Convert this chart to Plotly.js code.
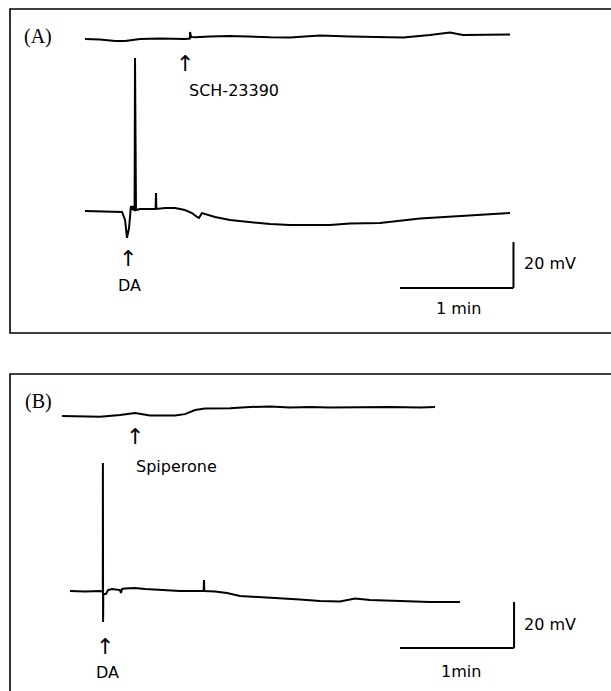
<!DOCTYPE html>
<html>
<head>
<meta charset="utf-8">
<script src="https://cdn.plot.ly/plotly-3.0.1.min.js"></script>
<style>html,body{margin:0;padding:0;background:#fff;}#chart{width:611px;height:691px;}</style>
</head>
<body>
<div id="chart"></div>
<script>
// ---------- DATA (time in s, membrane potential change in mV) ----------
// Panel A, lower trace: DA application
const tA_DA = [0, 7.9, 15.9, 19.6, 21.2, 22.2, 23.3, 24.3, 24.9, 25.4, 25.9, 26.24, 26.46, 26.67, 26.98, 29.1, 34.4, 37.35, 37.57, 37.78, 42.3, 47.6, 52.9, 56.6, 59.3, 60.3, 61.9, 64.6, 68.8, 76.7, 87.3, 97.9, 108.5, 119.0, 129.6, 140.2, 156.1, 177.2, 193.1, 209.0, 224.9];
const vA_DA = [0, -0.2, -0.4, -0.4, -3.9, -11.7, -7.4, 2.2, 0.4, 2.2, 0.4, 0.4, 66.5, 0.4, 0.4, 0.9, 0.9, 0.9, 7.8, 0.9, 1.3, 1.3, 0.4, -0.9, -2.6, -3.0, -0.9, -1.7, -2.6, -3.9, -4.8, -5.7, -6.1, -6.1, -6.1, -5.4, -5.2, -3.3, -2.6, -1.7, -0.9];
// Panel A, upper trace: SCH-23390 application
const tA_SCH = [0, 7.9, 15.9, 21.2, 29.1, 39.7, 52.9, 55.0, 55.45, 55.6, 56.1, 58.2, 66.1, 76.7, 87.3, 97.9, 108.5, 124.3, 140.2, 152.4, 168.3, 182.5, 193.1, 200.0, 211.6, 224.9];
const vA_SCH = [0, -0.2, -0.9, -0.9, 0, 0.2, 0, 0.2, 0.2, 3.0, 0.9, 0.7, 1.1, 1.3, 0.9, 0.7, 0.6, 1.5, 1.1, 1.0, 0.6, 1.7, 2.8, 1.7, 1.7, 1.9];
// Panel B, lower trace: DA application
const tB_DA = [3.7, 11.6, 19.5, 20.5, 20.95, 21.0, 21.1, 21.2, 22.6, 23.7, 25.8, 27.9, 30.0, 30.5, 31.1, 32.6, 37.9, 43.2, 51.1, 61.6, 72.1, 74.0, 74.2, 74.4, 80.0, 86.3, 93.2, 103.7, 114.2, 124.7, 135.3, 145.8, 153.7, 161.6, 177.4, 193.2, 208.9];
const vB_DA = [0, -0.2, 0, -0.4, -0.4, 55.7, -13.5, -1.3, -1.3, 0.4, 0.9, 0.7, 0.4, -0.9, 0.9, 1.1, 1.3, 0.9, 0.4, 0, 0, 0, 4.8, 0, -0.2, -0.9, -2.2, -2.6, -3.0, -3.7, -4.3, -4.6, -3.3, -3.9, -4.3, -4.8, -4.8];
// Panel B, upper trace: Spiperone application
const tB_SPI = [-0.5, 8.9, 19.5, 30.0, 37.9, 45.8, 58.9, 64.2, 69.5, 74.7, 87.9, 98.4, 108.9, 119.5, 130.0, 140.5, 156.3, 172.1, 187.9, 195.8];
const vB_SPI = [-0.4, -0.4, -0.7, 0, 0.9, -0.2, -0.2, 0.4, 2.2, 2.8, 3.0, 3.5, 3.7, 3.3, 3.5, 3.3, 3.5, 3.5, 3.3, 3.5];

// scale bar sizes
const scaleTime = 60;   // s (1 min)
const scaleVolt = 20;   // mV

// ---------- display layout constants ----------
const W = 611, H = 691;
const offA = 74.8, offB = 76.5;           // vertical display offset of upper traces (mV)
const px = x => x / W, py = y => 1 - y / H;
const lineStyle = {color: '#000', width: 2};

const traces = [
  {x: tA_DA, y: vA_DA, xaxis: 'x', yaxis: 'y'},
  {x: tA_SCH, y: vA_SCH.map(v => v + offA), xaxis: 'x', yaxis: 'y'},
  {x: tB_DA, y: vB_DA, xaxis: 'x2', yaxis: 'y2'},
  {x: tB_SPI, y: vB_SPI.map(v => v + offB), xaxis: 'x2', yaxis: 'y2'}
].map(t => Object.assign(t, {type: 'scatter', mode: 'lines', line: lineStyle, hoverinfo: 'skip'}));

const hidden = {visible: false, fixedrange: true};
const sbA = {t: 166.7, v: -33.5}, sbB = {t: 177.4, v: -24.8};

const shapes = [
  // panel frames
  {type: 'rect', xref: 'paper', yref: 'paper', x0: px(10), x1: px(640), y0: py(333), y1: py(9), line: {color: '#000', width: 1.6}},
  {type: 'rect', xref: 'paper', yref: 'paper', x0: px(10), x1: px(640), y0: py(720), y1: py(374), line: {color: '#000', width: 1.6}},
  // scale bars A
  {type: 'line', xref: 'x', yref: 'y', x0: sbA.t, x1: sbA.t + scaleTime, y0: sbA.v, y1: sbA.v, line: lineStyle},
  {type: 'line', xref: 'x', yref: 'y', x0: sbA.t + scaleTime, x1: sbA.t + scaleTime, y0: sbA.v, y1: sbA.v + scaleVolt, line: lineStyle},
  // scale bars B
  {type: 'line', xref: 'x2', yref: 'y2', x0: sbB.t, x1: sbB.t + scaleTime, y0: sbB.v, y1: sbB.v, line: lineStyle},
  {type: 'line', xref: 'x2', yref: 'y2', x0: sbB.t + scaleTime, x1: sbB.t + scaleTime, y0: sbB.v, y1: sbB.v + scaleVolt, line: lineStyle}
];

const sans = {family: 'DejaVu Sans, Arial, sans-serif', size: 16, color: '#000'};
const serif = {family: 'Liberation Serif, Times New Roman, serif', size: 20, color: '#000'};
const arrowFont = {family: 'DejaVu Sans, sans-serif', size: 22, color: '#000'};
function ann(text, x, y, font, xanchor) {
  return {text: text, xref: 'paper', yref: 'paper', x: px(x), y: py(y), showarrow: false,
          font: font, xanchor: xanchor || 'center', yanchor: 'middle'};
}
const annotations = [
  ann('(A)', 22, 37, serif, 'left'),
  ann('(B)', 23, 401, serif, 'left'),
  ann('↑', 185, 63, arrowFont),
  ann('SCH-23390', 187, 90, sans, 'left'),
  ann('↑', 128, 259, arrowFont),
  ann('DA', 129, 285, sans),
  ann('20 mV', 522, 264, sans, 'left'),
  ann('1 min', 459, 308, sans),
  ann('↑', 135, 437, arrowFont),
  ann('Spiperone', 134, 467, sans, 'left'),
  ann('↑', 105, 646, arrowFont),
  ann('DA', 107, 672, sans),
  ann('20 mV', 522, 624, sans, 'left'),
  ann('1min', 461, 671, sans)
];

const layout = {
  width: W, height: H,
  margin: {l: 0, r: 0, t: 0, b: 0},
  paper_bgcolor: '#fff', plot_bgcolor: 'rgba(0,0,0,0)',
  showlegend: false,
  xaxis: Object.assign({domain: [0, 1], range: [-85 / 1.89, (W - 85) / 1.89], anchor: 'y'}, hidden),
  yaxis: Object.assign({domain: [py(345), 1], range: [(211 - 345) / 2.3, 211 / 2.3], anchor: 'x'}, hidden),
  xaxis2: Object.assign({domain: [0, 1], range: [-63 / 1.9, (W - 63) / 1.9], anchor: 'y2'}, hidden),
  yaxis2: Object.assign({domain: [0, py(345)], range: [(591 - 691) / 2.3, (591 - 345) / 2.3], anchor: 'x2'}, hidden),
  shapes: shapes,
  annotations: annotations
};

Plotly.newPlot('chart', traces, layout, {displayModeBar: false, staticPlot: true});
</script>
</body>
</html>
